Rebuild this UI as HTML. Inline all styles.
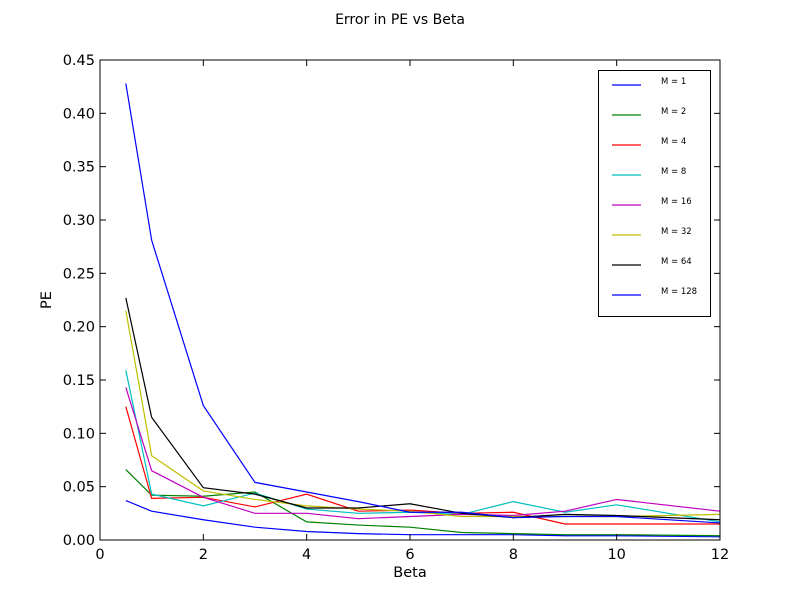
<!DOCTYPE html>
<html><head><meta charset="utf-8"><style>body{margin:0;background:#fff}svg{display:block;font-family:"DejaVu Sans","Liberation Sans",sans-serif}</style></head>
<body>
<svg id="c" width="800" height="600"></svg>
<script>
const xs=[0.5,1,2,3,4,5,6,7,8,9,10,12];
const labels=["M = 1","M = 2","M = 4","M = 8","M = 16","M = 32","M = 64","M = 128"];
const colors=["#0000ff","#008000","#ff0000","#00bfbf","#bf00bf","#bfbf00","#000000","#0000ff"];
const s1=[0.037,0.027,0.019,0.012,0.008,0.006,0.005,0.005,0.005,0.004,0.004,0.003];
const s2=[0.066,0.042,0.041,0.045,0.017,0.014,0.012,0.007,0.006,0.005,0.005,0.004];
const s4=[0.125,0.039,0.040,0.031,0.043,0.027,0.028,0.025,0.026,0.015,0.015,0.015];
const s8=[0.159,0.043,0.032,0.044,0.029,0.025,0.026,0.024,0.036,0.026,0.033,0.017];
const s16=[0.143,0.065,0.040,0.025,0.025,0.020,0.022,0.024,0.023,0.027,0.038,0.027];
const s32=[0.215,0.079,0.046,0.038,0.032,0.029,0.027,0.022,0.022,0.022,0.022,0.024];
const s64=[0.227,0.115,0.049,0.043,0.030,0.030,0.034,0.025,0.021,0.024,0.023,0.019];
const s128=[0.428,0.281,0.126,0.054,0.045,0.036,0.026,0.026,0.021,0.022,0.022,0.016];
const series=[s1,s2,s4,s8,s16,s32,s64,s128];
const xTicks=[0,2,4,6,8,10,12];
const yTicks=[0,0.05,0.10,0.15,0.20,0.25,0.30,0.35,0.40,0.45];
const L=100,R=720,T=60,B=540;
const X=v=>L+(v/12)*(R-L), Y=v=>B-(v/0.45)*(B-T);
const svg=document.getElementById('c');const NS='http://www.w3.org/2000/svg';
function mk(t,a,txt){const e=document.createElementNS(NS,t);for(const k in a)e.setAttribute(k,a[k]);if(txt!=null)e.textContent=txt;svg.appendChild(e);return e;}
let e;
e=mk('text',{x:400,y:24,'text-anchor':'middle','font-size':14},'Error in PE vs Beta');


series.forEach((s,i)=>{
 e=mk('polyline',{points:s.map((v,j)=>X(xs[j])+','+Y(v)).join(' '),fill:'none',stroke:colors[i],'stroke-width':1.2});
 
 
});
e=mk('rect',{x:L,y:T,width:R-L,height:B-T,fill:'none',stroke:'#000','stroke-width':1});


xTicks.forEach(t=>{
 mk('line',{x1:X(t),x2:X(t),y1:B,y2:B-6,stroke:'#000'});
 mk('line',{x1:X(t),x2:X(t),y1:T,y2:T+6,stroke:'#000'});
 e=mk('text',{x:X(t),y:B+19,'text-anchor':'middle','font-size':14.5},String(t));
 
 
});
yTicks.forEach(t=>{
 mk('line',{x1:L,x2:L+6,y1:Y(t),y2:Y(t),stroke:'#000'});
 mk('line',{x1:R,x2:R-6,y1:Y(t),y2:Y(t),stroke:'#000'});
 e=mk('text',{x:L-5,y:Y(t)+5,'text-anchor':'end','font-size':14.5},t.toFixed(2));
 
 
});
e=mk('text',{x:410,y:577,'text-anchor':'middle','font-size':14.5},'Beta');


e=mk('text',{x:51,y:300,'text-anchor':'middle','font-size':14.5,transform:'rotate(-90 51 300)'},'PE');


e=mk('rect',{x:598.5,y:70.5,width:112,height:246,fill:'#fff',stroke:'#000'});


labels.forEach((l,i)=>{
 const y=85+i*30;
 mk('line',{x1:612,x2:641,y1:y,y2:y,stroke:colors[i],'stroke-width':1.2});
 e=mk('text',{x:661,y:y-1,'font-size':8.5},l);
 
 
});
</script>
</body></html>
